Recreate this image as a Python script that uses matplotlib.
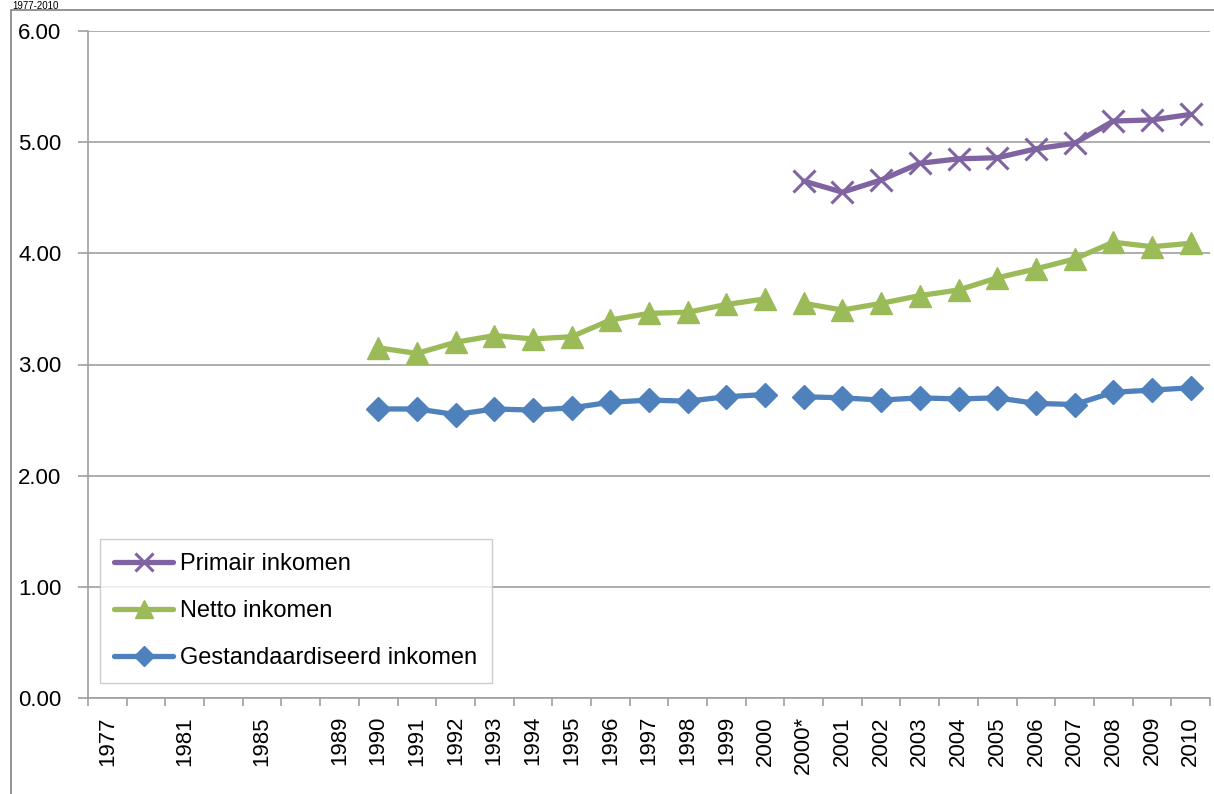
import matplotlib
matplotlib.use("Agg")
import matplotlib.pyplot as plt
import numpy as np
from matplotlib.patches import Rectangle

categories = ["1977", "", "1981", "", "1985", "", "1989", "1990", "1991", "1992", "1993",
              "1994", "1995", "1996", "1997", "1998", "1999", "2000", "2000*", "2001",
              "2002", "2003", "2004", "2005", "2006", "2007", "2008", "2009", "2010"]
N = np.nan
primair = [N, N, N, N, N, N, N, N, N, N, N, N, N, N, N, N, N, N,
           4.65, 4.55, 4.66, 4.81, 4.85, 4.86, 4.94, 4.99, 5.19, 5.20, 5.25]
netto = [N, N, N, N, N, N, N, 3.15, 3.10, 3.20, 3.26, 3.23, 3.25, 3.40, 3.46, 3.47, 3.54, 3.59,
         3.55, 3.49, 3.55, 3.62, 3.67, 3.78, 3.86, 3.95, 4.10, 4.06, 4.09]
gestand = [N, N, N, N, N, N, N, 2.60, 2.60, 2.55, 2.60, 2.59, 2.61, 2.66, 2.68, 2.67, 2.71, 2.73,
           2.71, 2.70, 2.68, 2.70, 2.69, 2.70, 2.65, 2.64, 2.75, 2.77, 2.79]
series_names = ["Primair inkomen", "Netto inkomen", "Gestandaardiseerd inkomen"]
break_after = "2000"
title = "1977-2010"

plt.rcParams['font.family'] = ['Liberation Sans', 'DejaVu Sans']
W, H = 1214, 794
fig = plt.figure(figsize=(W / 100, H / 100), dpi=100)
ax = fig.add_axes([88 / W, 1 - 698 / H, (1210 - 88) / W, (698 - 31) / H])

x = np.arange(len(categories))
b = categories.index(break_after) + 1

styles = [
    dict(color="#8064A2", marker="x", ms=16, mew=2.2, mec="#8064A2"),
    dict(color="#9BBB59", marker="^", ms=16, mec="#9BBB59"),
    dict(color="#4F81BD", marker="D", ms=12, mec="#4F81BD"),
]
handles = []
for vals, name, st in zip([primair, netto, gestand], series_names, styles):
    v = np.array(vals, dtype=float)
    h, = ax.plot(x[:b], v[:b], lw=3.8, label=name, solid_capstyle="round", **st)
    ax.plot(x[b:], v[b:], lw=3.8, solid_capstyle="round", **st)
    handles.append(h)

ax.set_xlim(-0.5, len(categories) - 0.5)
ax.set_ylim(0, 6)
yt = np.arange(0, 6.01, 1)
ax.set_yticks(yt)
ax.set_yticklabels([f"{t:.2f}" for t in yt], fontsize=16)
ax.yaxis.grid(True, color="#A0A0A0", lw=1.2)
ax.set_axisbelow(True)

ax.set_xticks(x)
ax.set_xticklabels(categories, rotation=90, fontsize=16)
ax.set_xticks(np.arange(-0.5, len(categories), 1), minor=True)
ax.tick_params(axis="x", which="major", length=0, pad=13)
ax.tick_params(axis="x", which="minor", length=6, color="#A0A0A0", width=1.2)
ax.tick_params(axis="y", length=7.2, color="#A0A0A0", width=1.2, pad=12)

for s in ["top", "right"]:
    ax.spines[s].set_visible(False)
for s in ["left", "bottom"]:
    ax.spines[s].set_color("#A0A0A0")
    ax.spines[s].set_linewidth(1.2)

leg = ax.legend(handles=handles, loc="lower left",
                bbox_to_anchor=((100 - 88) / 1122, (698 - 683) / 667),
                borderaxespad=0, fontsize=17, frameon=True, fancybox=False,
                edgecolor="#C0C0C0", handlelength=2.5, labelspacing=1.05,
                borderpad=0.6, handletextpad=0.3, markerscale=0.85)
leg.get_frame().set_linewidth(1.0)

# outer chart border
fig.patches.append(Rectangle((11 / W, -0.1), 1.2, 1 - 10 / H + 0.1, transform=fig.transFigure,
                             fill=False, edgecolor="#808080", lw=1.2))
fig.text(12 / W, 1 - 1 / H, title, fontsize=7, va="top", ha="left")

fig.savefig("out.png", dpi=100)
